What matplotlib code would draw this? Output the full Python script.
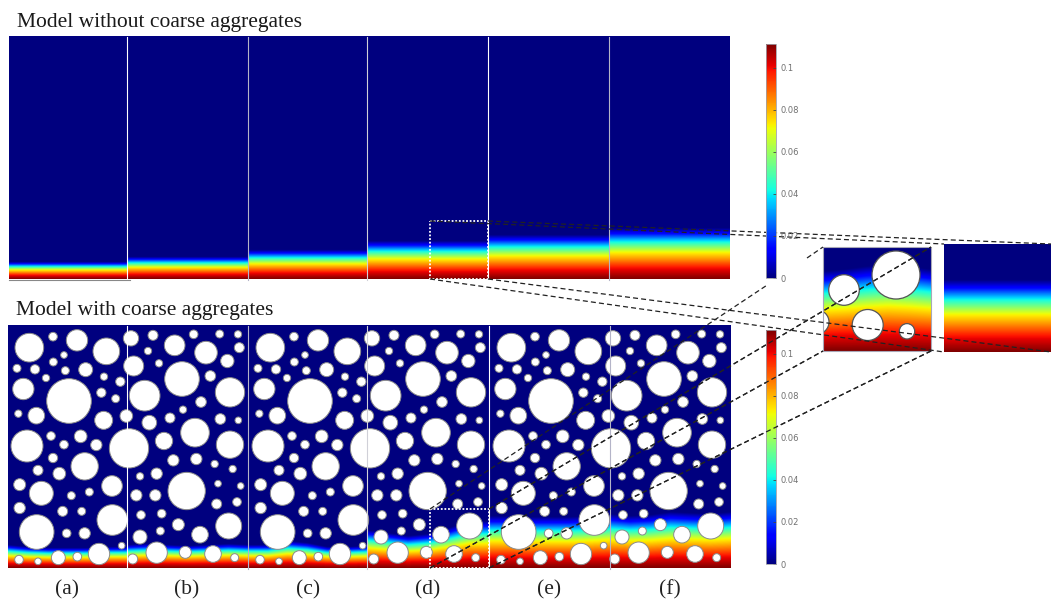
import numpy as np
import matplotlib
matplotlib.use("Agg")
import matplotlib.pyplot as plt
from matplotlib.cm import ScalarMappable
from matplotlib.colors import Normalize
from matplotlib.patches import Circle, Rectangle

vmax = 0.1113

# concentration against depth (depth as fraction of the front height)
profile_depth = [0.0, 0.22, 0.52, 0.74, 0.9, 1.0]
profile_conc = [0.1113, 0.099, 0.072, 0.039, 0.012, 0.0]

panel_labels = ["(a)", "(b)", "(c)", "(d)", "(e)", "(f)"]
label_x = [67, 187, 308, 428, 549, 670]

top_edges = [9.4, 126.6, 247.8, 367, 488, 609, 729.5]
bot_edges = [7.5, 126.7, 248.3, 366.7, 489.3, 610, 730.5]

# front height in px for each panel
top_front = [17, 22, 29, 38, 44, 51]
bot_front = [
    [23, 21, 20, 20, 20, 21, 21],
    [23, 24, 23, 22, 23, 24, 23],
    [23, 23, 27, 25, 21, 21, 22],
    [38, 35, 32, 34, 40, 47, 47],
    [52, 52, 51, 51, 51, 52, 54],
    [54, 52, 53, 56, 55, 54, 56],
]

a_x = [88, 159, 231, 319, 192, 160, 51, 105, 196, 257, 138, 312, 361, 70, 207, 304, 347, 55, 109, 311, 379, 81, 153, 242, 192,
       289, 387, 159, 254, 114, 178, 59, 124, 336, 214, 268, 59, 188, 245, 337, 110, 200, 254, 365, 297, 57, 114, 175, 232]
a_y = [83, 50, 61, 94, 105, 126, 145, 148, 152, 149, 174, 170, 185, 207, 243, 218, 236, 281, 287, 301, 288, 378, 348, 349, 374,
       375, 385, 414, 439, 451, 461, 494, 520, 498, 527, 516, 564, 574, 574, 600, 636, 640, 640, 677, 702, 719, 724, 713, 710]
a_r = [43, 13, 32, 40, 10, 12, 12, 14, 12, 21, 11, 11, 14, 32, 67, 14, 12, 11, 25, 27, 19, 48, 13, 19, 13,
       17, 59, 14, 41, 15, 19, 18, 36, 31, 12, 12, 17, 15, 12, 46, 52, 13, 17, 10, 32, 13, 10, 21, 13]

# pattern B is panels b,d,f
b_x = [393, 459, 524, 581, 659, 714, 618, 718, 444, 401, 477, 682, 546, 631, 434, 690, 603, 549, 448, 510, 661, 715, 585, 492, 690,
       520, 589, 644, 698, 420, 470, 560, 654, 722, 409, 466, 650, 711, 423, 485, 686, 535, 481, 420, 600, 704, 398, 470, 556, 639]
b_y = [55, 46, 76, 43, 42, 43, 98, 83, 93, 138, 130, 123, 177, 168, 227, 217, 246, 269, 308, 294, 297, 301, 338, 363, 374,
       421, 417, 432, 447, 469, 461, 513, 491, 498, 526, 526, 552, 546, 585, 581, 618, 614, 633, 651, 644, 713, 717, 698, 697, 702]
b_r = [23, 15, 31, 13, 12, 11, 34, 15, 11, 30, 11, 20, 52, 16, 46, 44, 16, 11, 22, 15, 16, 10, 43, 26, 41,
       17, 17, 11, 11, 11, 17, 56, 10, 10, 17, 17, 15, 13, 13, 13, 39, 18, 12, 21, 25, 12, 15, 32, 18, 25]
pattern_shift = [0, 241, 482]

# circles in the zoomed inset, px
inset_x = [896, 844, 867.7, 907, 817]
inset_y = [275, 290, 325, 331.3, 322]
inset_r = [24, 15.3, 15.5, 7.7, 12]
inset_front = [80, 82, 85, 87, 85, 82]

cbar_ticks = [0, 0.02, 0.04, 0.06, 0.08, 0.1]
cbar_labels = ["0", "0.02", "0.04", "0.06", "0.08", "0.1"]

# dashed leader lines, px
guide_x = [[430, 944], [488, 1051], [430, 944], [488, 1051], [430, 768], [807, 823], [489, 931], [430, 823], [489, 931]]
guide_y = [[221, 244], [221, 244], [279, 352], [279, 352], [509, 284.5], [258, 247], [509, 247], [568, 351], [568, 351]]

serif = "Liberation Serif"


def field(x0, x1, y0, y1, front):
    h = int(y1 - y0) * 2
    w = int(x1 - x0) * 2
    depth = np.linspace(y1 - y0, 0, h)[:, None]
    xs = np.linspace(0, 1, w)
    fr = np.interp(xs, np.linspace(0, 1, len(front)), front)[None, :]
    return np.interp(depth / fr, profile_depth, profile_conc)


fig = plt.figure(figsize=(10.51, 6.03), dpi=100)
ax = fig.add_axes([0, 0, 1, 1])


def draw_field(x0, x1, y0, y1, front):
    im = ax.imshow(field(x0, x1, y0, y1, front), extent=[x0, x1, y1, y0], cmap="jet", vmin=0, vmax=vmax,
                   aspect="auto", interpolation="bilinear", zorder=1)
    return im


# top row
for i in range(6):
    draw_field(top_edges[i], top_edges[i + 1], 37, 279.5, [top_front[i]] * 2)

# bottom row
for i in range(6):
    draw_field(bot_edges[i], bot_edges[i + 1], 326, 568.5, bot_front[i])

for shift in pattern_shift:
    for cx, cy, r in zip(a_x, a_y, a_r):
        ax.add_patch(Circle((cx / 3 + shift, 320 + cy / 3), r / 3, fc="white", ec="#8a8a8a", lw=0.7, zorder=2))
    for cx, cy, r in zip(b_x, b_y, b_r):
        ax.add_patch(Circle((cx / 3 + shift, 320 + cy / 3), r / 3, fc="white", ec="#8a8a8a", lw=0.7, zorder=2))

# panel dividers
divider_colors = ["white", "#b4b4c8", "#d0d0d8", "white", "#b4b4c8"]
for i in range(5):
    ax.plot([top_edges[i + 1]] * 2, [37, 279.5], color=divider_colors[i], lw=0.8, zorder=3)
    ax.plot([bot_edges[i + 1]] * 2, [326, 568.5], color=divider_colors[i], lw=0.8, zorder=3)
ax.plot([9.4, 130], [280, 280], color="#888888", lw=0.8, zorder=3)

# insets
im = draw_field(823, 931, 247, 351, inset_front)
clip = Rectangle((823, 247), 108, 104, transform=ax.transData)
for cx, cy, r in zip(inset_x, inset_y, inset_r):
    c = Circle((cx, cy), r, fc="white", ec="#555555", lw=0.9, zorder=2)
    ax.add_patch(c)
    c.set_clip_path(clip)
ax.add_patch(Rectangle((823, 247), 108, 104, fill=False, ec="#a8a8b8", lw=0.8, zorder=3))
draw_field(944, 1051, 244.5, 352, [72, 72])

# zoom boxes
for x0, x1, y0, y1 in [(430, 488, 221, 279), (430, 489, 509, 568)]:
    ax.add_patch(Rectangle((x0, y0), x1 - x0, y1 - y0, fill=False, ec="white", lw=1.3, ls=(0, (1, 1)), zorder=4))

for xs, ys in zip(guide_x, guide_y):
    ax.plot(xs, ys, color="#222222", lw=0.9, ls=(0, (4, 2.5)), zorder=5)

ax.set_xlim(0, 1051)
ax.set_ylim(603, 0)
ax.axis("off")

ax.text(17, 22, "Model without coarse aggregates", family=serif, fontsize=15.5, color="#1a1a1a", ha="left", va="center")
ax.text(16, 310, "Model with coarse aggregates", family=serif, fontsize=15.5, color="#1a1a1a", ha="left", va="center")
for lab, x in zip(panel_labels, label_x):
    ax.text(x, 590, lab, family=serif, fontsize=15.5, color="#222222", ha="center", va="center")

# colorbars
sm = ScalarMappable(Normalize(0, vmax), "jet")
for y0, y1 in [(44, 278), (330, 564)]:
    cax = fig.add_axes([766 / 1051, 1 - y1 / 603, 10 / 1051, (y1 - y0) / 603], zorder=1)
    cb = fig.colorbar(sm, cax=cax, ticks=cbar_ticks)
    cb.ax.set_yticklabels(cbar_labels)
    cb.ax.tick_params(length=2, width=0.6, color="#444444", labelsize=6, labelcolor="#707070", direction="in", pad=3.5)
    cb.outline.set_edgecolor("#a0a0a8")
    cb.outline.set_linewidth(0.6)

# leader lines run over the colorbars too
ov = fig.add_axes([0, 0, 1, 1], zorder=2)
ov.patch.set_alpha(0)
for xs, ys in zip(guide_x[6:], guide_y[6:]):
    ov.plot(xs, ys, color="#222222", lw=0.9, ls=(0, (4, 2.5)))
ov.set_xlim(0, 1051)
ov.set_ylim(603, 0)
ov.axis("off")

plt.savefig("out.png", dpi=100)
